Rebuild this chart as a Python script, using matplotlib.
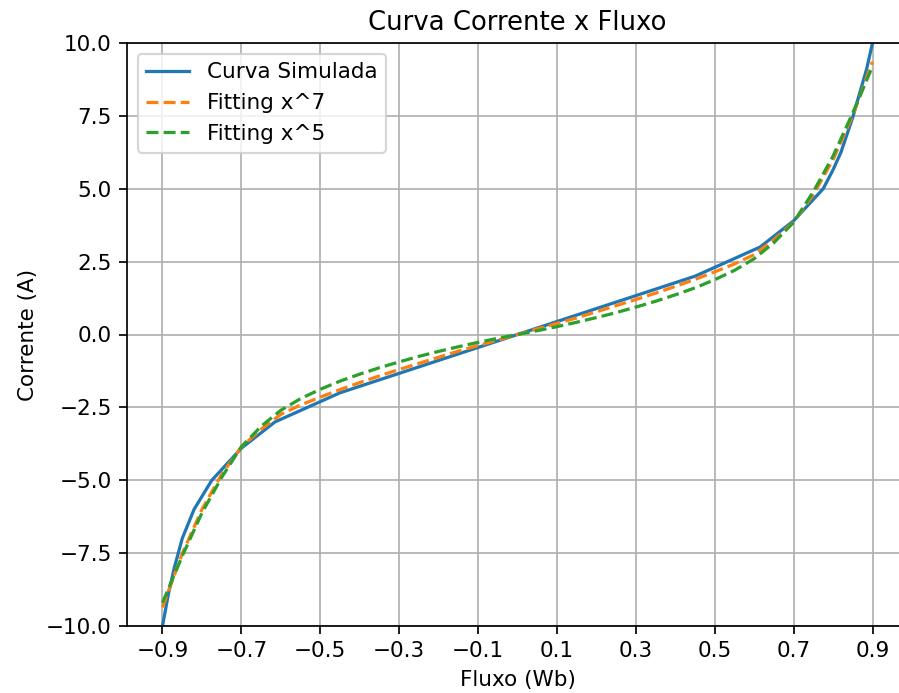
import matplotlib
matplotlib.use("Agg")
import matplotlib.pyplot as plt

# Simulated curve (flux in Wb, current in A)
sim_flux = [-0.9, -0.885, -0.87, -0.85, -0.82, -0.775, -0.7, -0.615, -0.45, 0.0,
            0.45, 0.615, 0.7, 0.775, 0.8, 0.82, 0.85, 0.87, 0.885, 0.9]
sim_curr = [-10.0, -8.9, -8.0, -7.0, -6.0, -5.0, -3.9, -3.0, -2.0, 0.0,
            2.0, 3.0, 3.9, 5.0, 5.65, 6.25, 7.45, 8.4, 9.1, 10.0]

# Fitted curves
fit_flux = [-0.9, -0.85, -0.8, -0.75, -0.7, -0.65, -0.6, -0.55, -0.5, -0.45,
            -0.4, -0.35, -0.3, -0.25, -0.2, -0.15, -0.1, -0.05, 0.0,
            0.05, 0.1, 0.15, 0.2, 0.25, 0.3, 0.35, 0.4, 0.45, 0.5,
            0.55, 0.6, 0.65, 0.7, 0.75, 0.8, 0.85, 0.9]
fit7_curr = [-9.36, -7.52, -6.0, -4.8, -3.86, -3.25, -2.74, -2.42, -2.15, -1.89,
             -1.65, -1.42, -1.2, -0.99, -0.78, -0.57, -0.38, -0.19, 0.0,
             0.19, 0.38, 0.57, 0.78, 0.99, 1.2, 1.42, 1.65, 1.89, 2.15,
             2.42, 2.74, 3.25, 3.86, 4.8, 6.0, 7.52, 9.36]
fit5_curr = [-9.2, -7.6, -6.12, -4.9, -3.85, -3.15, -2.6, -2.2, -1.88, -1.6,
             -1.36, -1.14, -0.94, -0.75, -0.58, -0.42, -0.27, -0.13, 0.0,
             0.13, 0.27, 0.42, 0.58, 0.75, 0.94, 1.14, 1.36, 1.6, 1.88,
             2.2, 2.6, 3.15, 3.85, 4.9, 6.12, 7.6, 9.2]

xtick_vals = [-0.9, -0.7, -0.5, -0.3, -0.1, 0.1, 0.3, 0.5, 0.7, 0.9]
xtick_labels = ["\u22120.9", "\u22120.7", "\u22120.5", "\u22120.3", "\u22120.1",
                "0.1", "0.3", "0.5", "0.7", "0.9"]

DPI = 155
fig = plt.figure(figsize=(899 / DPI, 693 / DPI), dpi=DPI)
ax = fig.add_axes([127 / 899, 67 / 693, 781 / 899, 583 / 693])

ax.plot(sim_flux, sim_curr, color="#1f77b4", label="Curva Simulada")
ax.plot(fit_flux, fit7_curr, "--", color="#ff7f0e", label="Fitting x^7")
ax.plot(fit_flux, fit5_curr, "--", color="#2ca02c", label="Fitting x^5")

ax.set_xlim(-0.99, 0.99)
ax.set_ylim(-10, 10)
ax.set_xticks(xtick_vals)
ax.set_xticklabels(xtick_labels)
ax.grid(True)
ax.set_title("Curva Corrente x Fluxo")
ax.set_xlabel("Fluxo (Wb)")
ax.set_ylabel("Corrente (A)")
ax.legend(loc="upper left")

fig.savefig("out.png", dpi=DPI)
